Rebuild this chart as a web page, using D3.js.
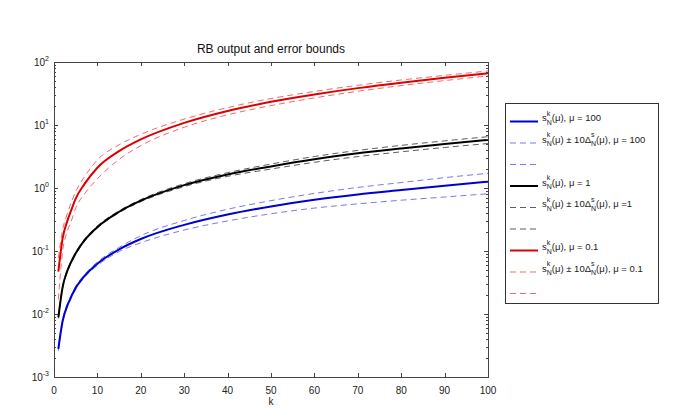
<!DOCTYPE html>
<html><head><meta charset="utf-8">
<script src="https://cdn.jsdelivr.net/npm/d3@7"></script>
<style>body{margin:0;background:#fff}svg{display:block;font-family:"Liberation Sans",Arial,sans-serif}</style>
</head><body><svg id="c" width="685" height="420"></svg>
<script>
const kValues = [1,2,3,4,5,7,10,15,20,30,40,50,60,70,80,90,100];
const sMu100 = [0.0028,0.0078,0.0132,0.019,0.026,0.040,0.063,0.106,0.155,0.26,0.38,0.51,0.65,0.79,0.93,1.09,1.26];
const dMu100 = [0.0002,0.0005,0.0008,0.001,0.0015,0.002,0.004,0.008,0.02,0.045,0.08,0.12,0.17,0.23,0.29,0.37,0.45];
const sMu1   = [0.0088,0.027,0.047,0.068,0.092,0.147,0.24,0.42,0.63,1.11,1.64,2.2,2.86,3.55,4.25,5.0,5.8];
const dMu1   = [0.0003,0.001,0.002,0.003,0.004,0.006,0.01,0.015,0.025,0.06,0.11,0.2,0.3,0.4,0.5,0.6,0.72];
const sMu01  = [0.047,0.16,0.29,0.45,0.68,1.15,2.1,3.85,5.9,10.8,16.7,23.3,30.5,38.5,47,56,66];
const dMu01  = [0.03,0.06,0.09,0.15,0.2,0.35,0.7,1.0,1.2,1.6,2.2,3.0,3.6,4.2,4.8,5.3,6.0];
const xTicks = [0,10,20,30,40,50,60,70,80,90,100];
const yTickExp = [-3,-2,-1,0,1,2];
const muLabels = ["100","1","0.1"];
const muLabels2 = ["= 100","=1","= 0.1"];
const colors = ["#0000d0","#000000","#dd0000"];
const dashColors = ["#5555ee","#333333","#ee4444"];

const svg = d3.select("#c");
const L=54, R=488, T=62, B=377;
const x = d3.scaleLinear().domain([0,100]).range([L,R]);
const y = d3.scaleLog().domain([1e-3,1e2]).range([B,T]);

// title
svg.append("text").attr("x",(L+R)/2).attr("y",53).attr("text-anchor","middle")
  .attr("font-size",12).attr("fill","#111").text("RB output and error bounds");

// curves
const series = [
  {s:sMu100,d:dMu100},
  {s:sMu1,d:dMu1},
  {s:sMu01,d:dMu01}
];
svg.append("clipPath").attr("id","cl").append("rect").attr("x",L).attr("y",T).attr("width",R-L).attr("height",B-T);
const g = svg.append("g").attr("clip-path","url(#cl)");
const line = d3.line().x(d=>x(d[0])).y(d=>y(d[1])).curve(d3.curveMonotoneX);
series.forEach((ser,i)=>{
  const up = kValues.map((k,j)=>[k, ser.s[j]+ser.d[j]]);
  const lo = kValues.map((k,j)=>[k, Math.max(1e-4, ser.s[j]-ser.d[j])]);
  [up,lo].forEach(pts=>{
    g.append("path").attr("d",line(pts)).attr("fill","none").attr("stroke",dashColors[i])
      .attr("stroke-width",0.8).attr("stroke-dasharray","6,4");
  });
});
series.forEach((ser,i)=>{
  const pts = kValues.map((k,j)=>[k, ser.s[j]]);
  g.append("path").attr("d",line(pts)).attr("fill","none").attr("stroke",colors[i])
    .attr("stroke-width",2);
});

// axes box
const ax = svg.append("g").attr("stroke","#444").attr("fill","none").attr("stroke-width",1);
ax.append("rect").attr("x",L+0.5).attr("y",T+0.5).attr("width",R-L).attr("height",B-T);
xTicks.forEach(t=>{
  const px = Math.round(x(t))+0.5;
  ax.append("line").attr("x1",px).attr("x2",px).attr("y1",B).attr("y2",B-4);
  ax.append("line").attr("x1",px).attr("x2",px).attr("y1",T).attr("y2",T+4);
  svg.append("text").attr("x",x(t)).attr("y",394).attr("text-anchor","middle").attr("font-size",10).attr("fill","#222").text(t);
});
svg.append("text").attr("x",x(50)).attr("y",405).attr("text-anchor","middle").attr("font-size",10).attr("fill","#222").text("k");
yTickExp.forEach(e=>{
  const py = Math.round(y(Math.pow(10,e)))+0.5;
  ax.append("line").attr("x1",L).attr("x2",L+4).attr("y1",py).attr("y2",py);
  ax.append("line").attr("x1",R).attr("x2",R-4).attr("y1",py).attr("y2",py);
  if(e<2){
    for(let m=2;m<=9;m++){
      const my = Math.round(y(m*Math.pow(10,e)))+0.5;
      ax.append("line").attr("x1",L).attr("x2",L+2).attr("y1",my).attr("y2",my);
      ax.append("line").attr("x1",R).attr("x2",R-2).attr("y1",my).attr("y2",my);
    }
  }
  const t = svg.append("text").attr("x",L-5).attr("y",y(Math.pow(10,e))+4).attr("text-anchor","end").attr("font-size",10).attr("fill","#222");
  t.append("tspan").text("10");
  t.append("tspan").attr("font-size",7).attr("dy",-5).text(String(e));
});

// legend
const lx0=505, ly0=103, lw=153, lh=200;
svg.append("rect").attr("x",lx0+0.5).attr("y",ly0+0.5).attr("width",lw).attr("height",lh).attr("fill","#fff").attr("stroke","#333");
function richText(xp, yp, pieces){
  let cx = xp;
  pieces.forEach(p=>{
    if(p.t!==undefined){
      const t = svg.append("text").attr("x",cx).attr("y",yp).attr("font-size",9.5).attr("fill","#222").text(p.t);
      cx += t.node().getComputedTextLength();
    } else {
      const a = svg.append("text").attr("x",cx).attr("y",yp-5.5).attr("font-size",7).attr("fill","#222").text(p.sup);
      const b = svg.append("text").attr("x",cx).attr("y",yp+3.5).attr("font-size",7).attr("fill","#222").text(p.sub);
      cx += Math.max(a.node().getComputedTextLength(), b.node().getComputedTextLength());
    }
  });
}
const rowY0 = 121.5, rowStep = 21.5;
[0,1,2].forEach(i=>{
  const r0 = rowY0 + rowStep*3*i;
  svg.append("line").attr("x1",510).attr("x2",538).attr("y1",r0).attr("y2",r0).attr("stroke",colors[i]).attr("stroke-width",2);
  [r0+rowStep, r0+2*rowStep].forEach(yy=>{
    svg.append("line").attr("x1",510).attr("x2",538).attr("y1",yy).attr("y2",yy).attr("stroke",dashColors[i]).attr("stroke-width",0.8).attr("stroke-dasharray","6,4");
  });
  richText(542, r0-0.5, [{t:"s"},{sup:"k",sub:"N"},{t:"(μ), μ = "+muLabels[i]}]);
  richText(542, r0+rowStep-0.5, [{t:"s"},{sup:"k",sub:"N"},{t:"(μ) ± 10Δ"},{sup:"s",sub:"N"},{t:"(μ), μ "+muLabels2[i]}]);
});
</script></body></html>
